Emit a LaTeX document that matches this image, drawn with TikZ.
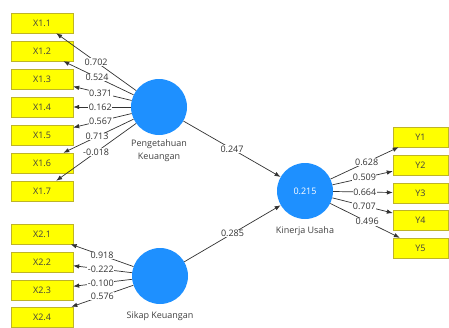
\documentclass[tikz,border=0pt]{standalone}
\usepackage{fontspec}
\setmainfont{Open Sans}
\usepackage{xcolor}
\usetikzlibrary{arrows.meta}
\definecolor{lvblue}{RGB}{30,144,255}
\definecolor{mvyellow}{RGB}{255,255,0}
\definecolor{mvborder}{RGB}{190,180,40}
\definecolor{linegray}{RGB}{50,50,50}
\tikzset{>={Latex[length=6pt, width=4.5pt]}}
\tikzset{
  indicator/.style={draw=mvborder, fill=mvyellow, minimum width=62pt, minimum height=20pt,
    inner sep=0pt, text=black!75, font=\fontsize{9}{10}\selectfont},
  construct/.style={circle, fill=lvblue, minimum size=56pt, inner sep=0pt, text=white,
    font=\fontsize{9}{10}\selectfont},
  constructname/.style={text=black!75, font=\fontsize{9}{12.5}\selectfont, align=center},
  loading/.style={->, linegray, line width=0.7pt},
  weight/.style={fill=white, inner sep=0.5pt, text=black!80, font=\fontsize{9}{10}\selectfont}
}

\begin{document}
\begin{tikzpicture}[x=1pt, y=-1pt]
    \useasboundingbox (0,0) rectangle (449,327);
    % constructs
    \node[construct, label={[constructname, label distance=1pt]below:Pengetahuan\\Keuangan}] (pk) at (159,107) {};
    \node[construct, label={[constructname, label distance=4pt]below:Sikap Keuangan}] (sk) at (160,276) {};
    \node[construct, label={[constructname, label distance=4pt]below:Kinerja Usaha}] (ku) at (305,191) {0.215};
    % indicators
    \node[indicator] (x11) at (42,23) {X1.1};
    \node[indicator] (x12) at (42,51) {X1.2};
    \node[indicator] (x13) at (42,79) {X1.3};
    \node[indicator] (x14) at (42,107) {X1.4};
    \node[indicator] (x15) at (42,135) {X1.5};
    \node[indicator] (x16) at (42,163) {X1.6};
    \node[indicator] (x17) at (42,191) {X1.7};
    \node[indicator] (x21) at (42,234) {X2.1};
    \node[indicator] (x22) at (42,262) {X2.2};
    \node[indicator] (x23) at (42,290) {X2.3};
    \node[indicator] (x24) at (42,317) {X2.4};
    \node[indicator, minimum width=55pt] (y1) at (420.5,137) {Y1};
    \node[indicator, minimum width=55pt] (y2) at (420.5,165) {Y2};
    \node[indicator, minimum width=55pt] (y3) at (420.5,193) {Y3};
    \node[indicator, minimum width=55pt] (y4) at (420.5,220) {Y4};
    \node[indicator, minimum width=55pt] (y5) at (420.5,248) {Y5};
    % outer loadings
    \draw[loading] (pk) -- node[weight, pos=0.5] {0.702} (x11);
    \draw[loading] (pk) -- node[weight, pos=0.52] {0.524} (x12);
    \draw[loading] (pk) -- node[weight, pos=0.53] {0.371} (x13);
    \draw[loading] (pk) -- node[weight, pos=0.53] {0.162} (x14);
    \draw[loading] (pk) -- node[weight, pos=0.53] {0.567} (x15);
    \draw[loading] (pk) -- node[weight, pos=0.52] {0.713} (x16);
    \draw[loading] (pk) -- node[weight, pos=0.5] {-0.018} (x17);
    \draw[loading] (sk) -- node[weight, pos=0.5] {0.918} (x21);
    \draw[loading] (sk) -- node[weight, pos=0.53] {-0.222} (x22);
    \draw[loading] (sk) -- node[weight, pos=0.53] {-0.100} (x23);
    \draw[loading] (sk) -- node[weight, pos=0.5] {0.576} (x24);
    \draw[loading] (ku) -- node[weight, pos=0.53] {0.628} (y1);
    \draw[loading] (ku) -- node[weight, pos=0.53] {0.509} (y2);
    \draw[loading] (ku) -- node[weight, pos=0.53] {0.664} (y3);
    \draw[loading] (ku) -- node[weight, pos=0.53] {0.707} (y4);
    \draw[loading] (ku) -- node[weight, pos=0.53] {0.496} (y5);
    % path coefficients
    \draw[loading] (pk) -- node[weight] {0.247} (ku);
    \draw[loading] (sk) -- node[weight] {0.285} (ku);
\end{tikzpicture}
\end{document}
